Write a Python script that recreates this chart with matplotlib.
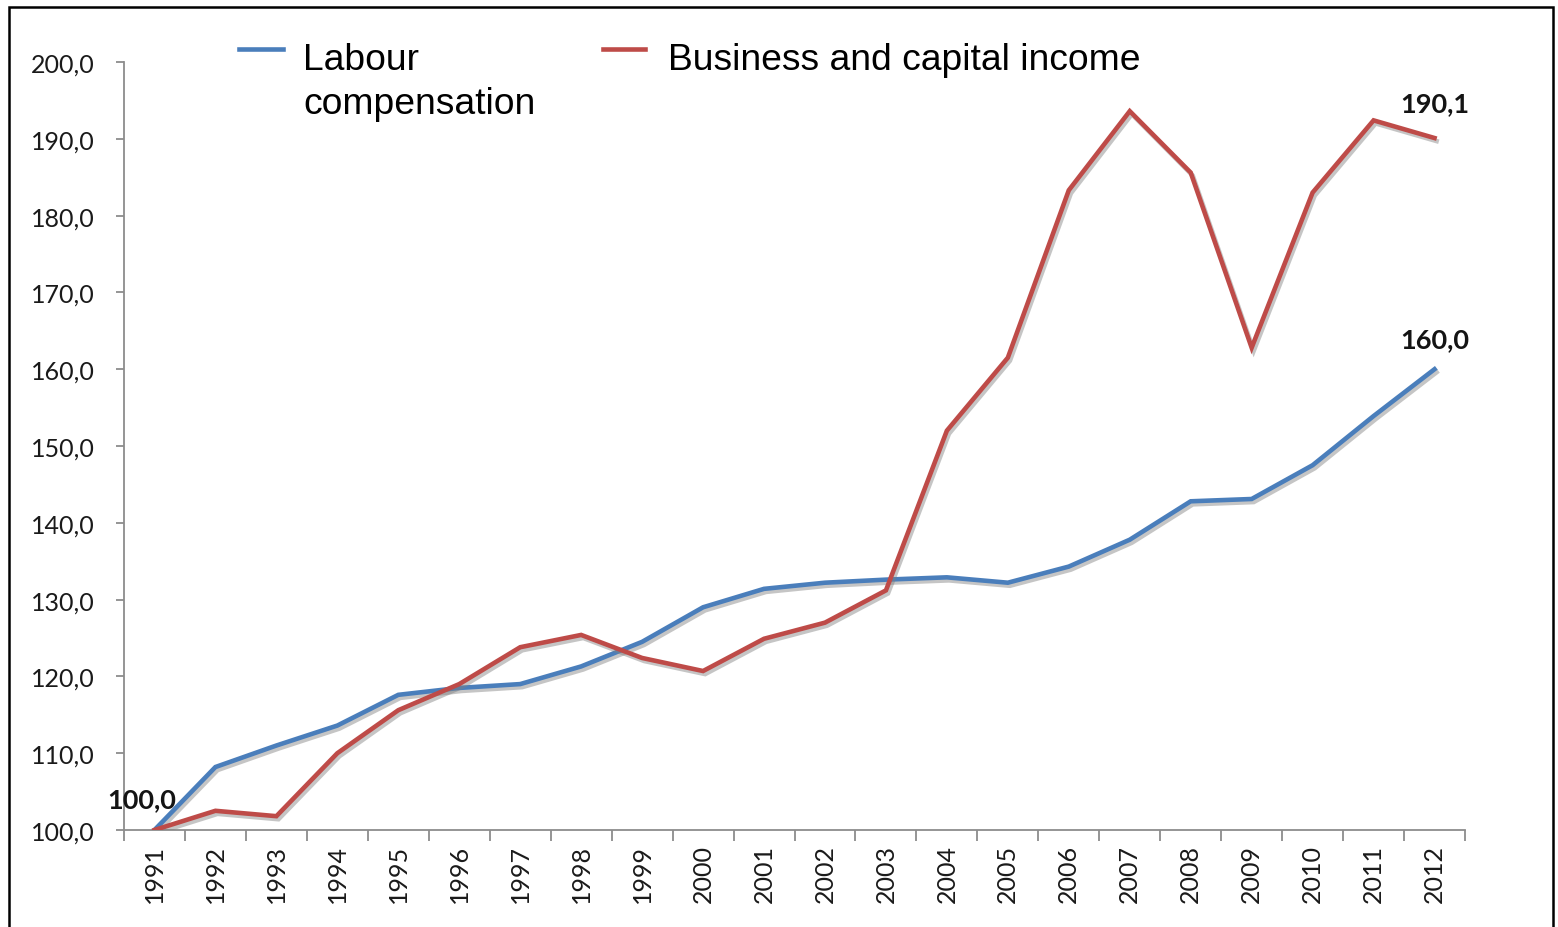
import matplotlib
matplotlib.use("Agg")
import matplotlib.pyplot as plt
import matplotlib.patheffects as pe
from matplotlib.lines import Line2D
from matplotlib.patches import Rectangle


years = [str(y) for y in range(1991, 2013)]
labour = [100.0, 108.2, 111.0, 113.6, 117.6, 118.5, 119.0, 121.3, 124.5, 129.0, 131.4,
          132.2, 132.6, 132.9, 132.2, 134.3, 137.8, 142.8, 143.1, 147.5, 153.9, 160.0]
business = [100.0, 102.5, 101.8, 110.0, 115.6, 119.0, 123.8, 125.4, 122.4, 120.7, 124.9,
            127.0, 131.2, 152.0, 161.5, 183.3, 193.6, 185.6, 162.8, 183.0, 192.4, 190.1]
y_ticks = [100, 110, 120, 130, 140, 150, 160, 170, 180, 190, 200]

BLUE = "#4A7EBB"
RED = "#BE4B48"
AXIS_GREY = "#8C8C8C"
TICK_FONT = "Lato"

W, H = 1558, 928
fig = plt.figure(figsize=(W / 100, H / 100), dpi=100)
ax = fig.add_axes([124 / W, 1 - 831 / H, (1465 - 124) / W, (831 - 63) / H])

shadow = [pe.SimpleLineShadow(offset=(1.5, -2.2), shadow_color="#7f7f7f", alpha=0.45),
          pe.Normal()]
x = list(range(len(years)))
ax.plot(x, labour, color=BLUE, lw=3.3, solid_joinstyle="miter", path_effects=shadow, zorder=3)
ax.plot(x, business, color=RED, lw=3.3, solid_joinstyle="miter", path_effects=shadow, zorder=4)

ax.set_xlim(-0.5, len(years) - 0.5)
ax.set_ylim(100, 200)

ax.set_xticks([i - 0.5 for i in range(len(years) + 1)])
ax.set_xticklabels([])
ax.set_xticks(x, minor=True)
ax.set_xticklabels(years, minor=True, rotation=90, fontsize=18, family=TICK_FONT,
                   color="#1a1a1a")
ax.tick_params(axis="x", which="major", direction="out", length=8, width=1.3, color=AXIS_GREY)
ax.tick_params(axis="x", which="minor", length=0, pad=10)

ax.set_yticks(y_ticks)
ax.set_yticklabels([f"{v:.1f}".replace(".", ",") for v in y_ticks], fontsize=18,
                   family=TICK_FONT, color="#1a1a1a")
ax.tick_params(axis="y", direction="out", length=6, width=1.3, color=AXIS_GREY, pad=15)

for side in ("top", "right"):
    ax.spines[side].set_visible(False)
for side in ("left", "bottom"):
    ax.spines[side].set_color(AXIS_GREY)
    ax.spines[side].set_linewidth(1.3)

# value labels at the start and end points
def fmt(v):
    return f"{v:.1f}".replace(".", ",")

lab_kw = dict(textcoords="offset pixels", ha="center", va="center", fontsize=19.5,
              fontweight="bold", family=TICK_FONT, color="#141414")
ax.annotate(fmt(labour[0]), (0, labour[0]), xytext=(-13, 31), **lab_kw)
ax.annotate(fmt(business[-1]), (len(years) - 1, business[-1]), xytext=(0, 35), **lab_kw)
ax.annotate(fmt(labour[-1]), (len(years) - 1, labour[-1]), xytext=(0, 30), **lab_kw)

# legend drawn across the top
def px(xp, yp):
    return xp / W, 1 - yp / H

leg_font = dict(fontsize=26.8, family="Liberation Sans", color="black", va="baseline")
fig.add_artist(Line2D([239 / W, 283 / W], [1 - 50 / H] * 2, color=BLUE, lw=3.3))
fig.text(*px(303, 70), "Labour", **leg_font)
fig.text(*px(303, 114), "compensation", **leg_font)
fig.add_artist(Line2D([603 / W, 645 / W], [1 - 50 / H] * 2, color=RED, lw=3.3))
fig.text(*px(668, 70), "Business and capital income", **leg_font)

# outer frame
fig.add_artist(Rectangle((9 / W, -0.05), (1553 - 9) / W, 1.05 - 8 / H,
                         transform=fig.transFigure, fill=False, edgecolor="black", lw=1.8))

fig.savefig("out.png", dpi=100)
